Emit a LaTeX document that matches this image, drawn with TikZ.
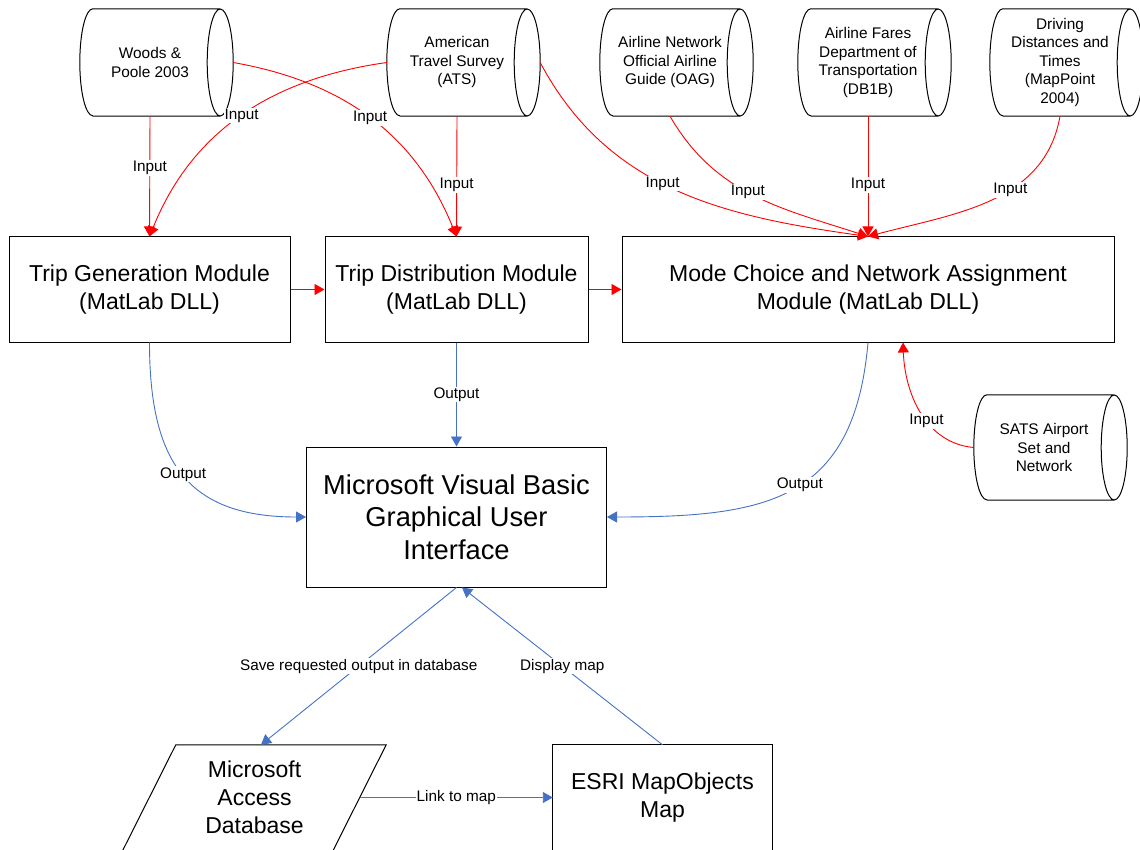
\documentclass[tikz,border=0pt]{standalone}
\usepackage{fontspec}
\setmainfont{Liberation Sans}
\usetikzlibrary{arrows.meta,calc}
\definecolor{blueC}{HTML}{4472C4}
\definecolor{redC}{HTML}{FF0000}
\tikzset{
  modbox/.style={draw=black, line width=1pt, rectangle, inner sep=0pt, align=center,
    minimum height=105pt, font=\fontsize{23}{28}\selectfont},
  guibox/.style={modbox, minimum width=300pt, minimum height=140pt, font=\fontsize{27.3}{32.5}\selectfont},
  plainarea/.style={rectangle, inner sep=0pt, align=center, minimum height=105pt, font=\fontsize{23}{28}\selectfont},
  cylarea/.style={rectangle, inner sep=0pt, align=center, minimum width=140pt, minimum height=107pt,
    font=\fontsize{15.4}{18.5}\selectfont},
  cylline/.style={draw=black, line width=1pt},
  lbl/.style={fill=white, inner sep=1pt, font=\fontsize{15.3}{18}\selectfont},
  redarr/.style={draw=redC, line width=0.9pt, -{Triangle[length=10pt,width=11pt]}},
  bluearr/.style={draw=blueC, line width=0.9pt, -{Triangle[length=10pt,width=11pt]}},
}
\newcommand\cylout[2]{%
  \draw[cylline] ([xshift=13pt]#1.north west) -- (#1.north east)
    (#1.east) ellipse[x radius=13pt, y radius=#2]
    (#1.south east) -- ([xshift=13pt]#1.south west)
    ([xshift=13pt]#1.north west) arc[start angle=90, end angle=270, x radius=13pt, y radius=#2];}
\begin{document}
\begin{tikzpicture}[x=1pt,y=1pt]
\useasboundingbox (0,0) rectangle (1140,-850);
% data sources
\node[cylarea] (woods) at (150,-62.5) {Woods \&\\Poole 2003};
\node[cylarea] (ats) at (457,-62.5) {American\\Travel Survey\\(ATS)};
\node[cylarea] (oag) at (670,-62.5) {Airline Network\\Official Airline\\Guide (OAG)};
\node[cylarea] (fares) at (868,-62.5) {Airline Fares\\Department of\\Transportation\\(DB1B)};
\node[cylarea] (drive) at (1060,-62.5) {Driving\\Distances and\\Times\\(MapPoint\\2004)};
\node[cylarea, minimum height=105pt] (sats) at (1044,-447.5) {SATS Airport\\Set and\\Network};
\cylout{woods}{53.5pt}
\cylout{ats}{53.5pt}
\cylout{oag}{53.5pt}
\cylout{fares}{53.5pt}
\cylout{drive}{53.5pt}
\cylout{sats}{52.5pt}
% modules
\node[modbox, minimum width=281pt] (tg) at (149.5,-289.5) {Trip Generation Module\\(MatLab DLL)};
\node[modbox, minimum width=263pt] (td) at (456.5,-289.5) {Trip Distribution Module\\(MatLab DLL)};
\node[modbox, minimum width=492pt] (mode) at (868,-289.5) {Mode Choice and Network Assignment\\Module (MatLab DLL)};
\node[guibox] (gui) at (456.5,-517) {Microsoft Visual Basic\\Graphical User\\Interface};
% bottom shapes
\node[plainarea, minimum width=210pt] (acc) at (254.5,-797.5) {Microsoft\\Access\\Database};
\draw[cylline] ([xshift=26.5pt]acc.north west) -- ([xshift=26.5pt]acc.north east)
  -- ([xshift=-29.5pt,yshift=-6pt]acc.south east) -- ([xshift=-29.5pt,yshift=-6pt]acc.south west) -- cycle;
\node[plainarea, minimum width=219pt] (esri) at (662.5,-797.5) {ESRI MapObjects\\Map};
\draw[cylline] ([yshift=-6pt]esri.south west) -- (esri.north west) -- (esri.north east) -- ([yshift=-6pt]esri.south east);
% red inputs
\draw[redarr] (woods.south) -- node[lbl,pos=0.43] {Input} (tg.north);
\draw[redarr] (ats.south) -- node[lbl,pos=0.57] {Input} (td.north);
\draw[redarr] ([xshift=13pt]woods.east) to[out=-10,in=112] node[lbl,pos=0.5] {Input} (td.north);
\draw[redarr] (ats.west) to[out=188,in=68] node[lbl,pos=0.5] {Input} (tg.north);
\draw[redarr] ([xshift=13pt]ats.east) to[out=-62,in=172] node[lbl,pos=0.46] {Input} (mode.north);
\draw[redarr] (oag.south) to[out=-60,in=162] node[lbl,pos=0.47] {Input} (mode.north);
\draw[redarr] (fares.south) -- node[lbl,pos=0.57] {Input} (mode.north);
\draw[redarr] (drive.south) to[out=-100,in=15] node[lbl,pos=0.4] {Input} (mode.north);
\draw[redarr] (tg.east) -- (td.west);
\draw[redarr] (td.east) -- (mode.west);
\draw[redarr] (sats.west) to[out=175,in=-88] node[lbl,pos=0.42] {Input} ([xshift=35pt]mode.south);
% blue outputs
\draw[bluearr] (tg.south) to[out=-90,in=180,looseness=1.3] node[lbl,pos=0.5] {Output} (gui.west);
\draw[bluearr] (td.south) -- node[lbl,pos=0.5] {Output} (gui.north);
\draw[bluearr] (mode.south) to[out=-95,in=0,looseness=1.3] node[lbl,pos=0.47] {Output} (gui.east);
\draw[bluearr] (gui.south) -- node[lbl,pos=0.5] {Save requested output in database} ([xshift=6.5pt]acc.north);
\draw[bluearr] (esri.north) -- node[lbl,pos=0.5] {Display map} ([xshift=5.5pt]gui.south);
\draw[bluearr] (acc.east) -- node[lbl,pos=0.5] {Link to map} (esri.west);
\end{tikzpicture}
\end{document}
